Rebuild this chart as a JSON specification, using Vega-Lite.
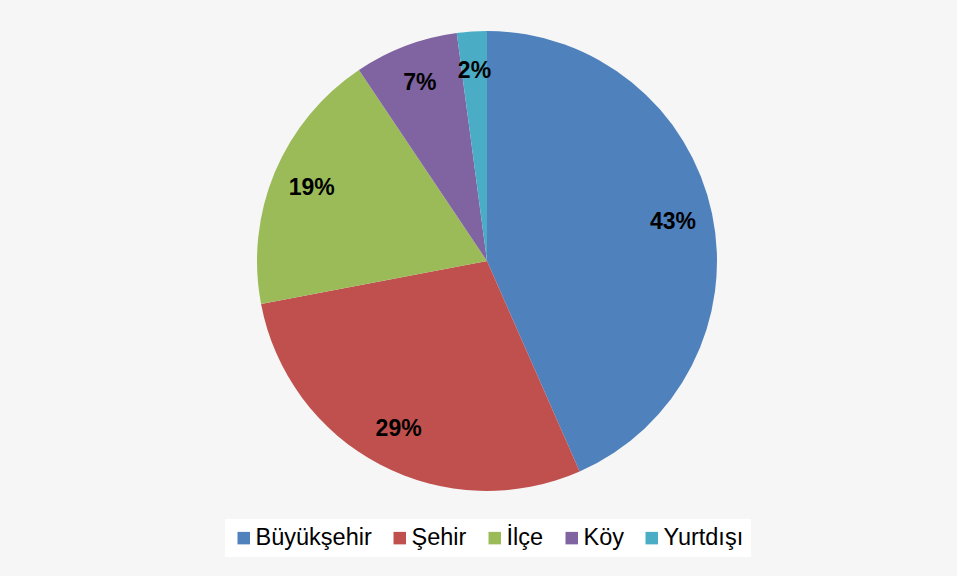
{
  "$schema": "https://vega.github.io/schema/vega-lite/v6.json",
  "width": 940,
  "height": 522,
  "autosize": {"type": "none"},
  "padding": {"left": 17, "top": 0, "right": 0, "bottom": 54},
  "background": "#f6f6f6",
  "config": {"view": {"stroke": null}, "font": "Liberation Sans"},
  "data": {
    "values": [
      {"category": "Büyükşehir", "share": 0.434, "order": 1},
      {"category": "Şehir", "share": 0.286, "order": 2},
      {"category": "İlçe", "share": 0.186, "order": 3},
      {"category": "Köy", "share": 0.073, "order": 4},
      {"category": "Yurtdışı", "share": 0.021, "order": 5}
    ]
  },
  "encoding": {
    "theta": {"field": "share", "type": "quantitative", "stack": true},
    "order": {"field": "order", "type": "quantitative"},
    "color": {
      "field": "category",
      "type": "nominal",
      "sort": ["Büyükşehir", "Şehir", "İlçe", "Köy", "Yurtdışı"],
      "scale": {
        "domain": ["Büyükşehir", "Şehir", "İlçe", "Köy", "Yurtdışı"],
        "range": ["#4f81bd", "#c0504d", "#9bbb59", "#8064a2", "#4bacc6"]
      },
      "legend": {
        "orient": "none",
        "legendX": 208,
        "legendY": 519,
        "direction": "horizontal",
        "title": null,
        "fillColor": "white",
        "padding": 7,
        "symbolType": "square",
        "symbolSize": 156,
        "symbolStrokeWidth": 0,
        "symbolOpacity": 1,
        "labelFontSize": 23.5,
        "labelColor": "black",
        "labelFont": "Liberation Sans",
        "labelOffset": 0,
        "columnPadding": 16,
        "labelLimit": 300
      }
    }
  },
  "layer": [
    {"mark": {"type": "arc", "outerRadius": 230}},
    {
      "mark": {"type": "text", "radius": 190, "fontSize": 23, "fontWeight": "bold", "font": "Liberation Sans", "color": "black"},
      "encoding": {
        "text": {"field": "share", "type": "quantitative", "format": ".0%"},
        "color": {"value": "black"}
      }
    }
  ]
}
